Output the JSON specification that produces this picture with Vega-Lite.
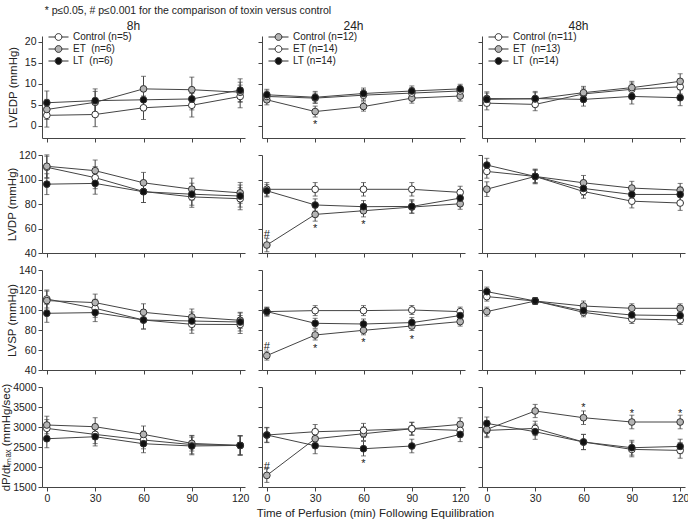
{
"$schema":"https://vega.github.io/schema/vega-lite/v6.json",
"background":"white",
"padding":{"left":0,"top":5,"right":2,"bottom":2},
"title":{"text":"* p≤0.05, # p≤0.001 for the comparison of toxin versus control","anchor":"start","frame":"bounds","fontSize":10.5,"fontWeight":"normal","color":"#222","offset":4,"dx":44},
"datasets":{
"d":[
{"m":"LVEDP","t":"8h","s":"Control","x":0,"v":2.5,"e":2.8},{"m":"LVEDP","t":"8h","s":"Control","x":30,"v":2.7,"e":2.9},{"m":"LVEDP","t":"8h","s":"Control","x":60,"v":4.3,"e":2.8},{"m":"LVEDP","t":"8h","s":"Control","x":90,"v":4.9,"e":2.8},{"m":"LVEDP","t":"8h","s":"Control","x":120,"v":7.0,"e":2.7},
{"m":"LVEDP","t":"8h","s":"ET","x":0,"v":3.9,"e":2.4},{"m":"LVEDP","t":"8h","s":"ET","x":30,"v":5.6,"e":2.6},{"m":"LVEDP","t":"8h","s":"ET","x":60,"v":8.8,"e":3.0},{"m":"LVEDP","t":"8h","s":"ET","x":90,"v":8.6,"e":3.0},{"m":"LVEDP","t":"8h","s":"ET","x":120,"v":8.0,"e":2.4},
{"m":"LVEDP","t":"8h","s":"LT","x":0,"v":5.5,"e":2.8},{"m":"LVEDP","t":"8h","s":"LT","x":30,"v":6.0,"e":2.8},{"m":"LVEDP","t":"8h","s":"LT","x":60,"v":6.2,"e":2.6},{"m":"LVEDP","t":"8h","s":"LT","x":90,"v":6.4,"e":2.6},{"m":"LVEDP","t":"8h","s":"LT","x":120,"v":8.5,"e":2.7},
{"m":"LVEDP","t":"24h","s":"Control","x":0,"v":6.2,"e":1.2},{"m":"LVEDP","t":"24h","s":"Control","x":30,"v":3.4,"e":1.3},{"m":"LVEDP","t":"24h","s":"Control","x":60,"v":4.6,"e":1.1},{"m":"LVEDP","t":"24h","s":"Control","x":90,"v":6.6,"e":1.2},{"m":"LVEDP","t":"24h","s":"Control","x":120,"v":7.1,"e":1.2},
{"m":"LVEDP","t":"24h","s":"ET","x":0,"v":7.0,"e":1.3},{"m":"LVEDP","t":"24h","s":"ET","x":30,"v":6.6,"e":1.2},{"m":"LVEDP","t":"24h","s":"ET","x":60,"v":7.3,"e":1.3},{"m":"LVEDP","t":"24h","s":"ET","x":90,"v":7.8,"e":1.3},{"m":"LVEDP","t":"24h","s":"ET","x":120,"v":8.3,"e":1.2},
{"m":"LVEDP","t":"24h","s":"LT","x":0,"v":7.4,"e":1.3},{"m":"LVEDP","t":"24h","s":"LT","x":30,"v":6.8,"e":1.4},{"m":"LVEDP","t":"24h","s":"LT","x":60,"v":7.7,"e":1.3},{"m":"LVEDP","t":"24h","s":"LT","x":90,"v":8.3,"e":1.2},{"m":"LVEDP","t":"24h","s":"LT","x":120,"v":8.8,"e":1.1},
{"m":"LVEDP","t":"48h","s":"Control","x":0,"v":5.4,"e":1.6},{"m":"LVEDP","t":"48h","s":"Control","x":30,"v":5.1,"e":1.5},{"m":"LVEDP","t":"48h","s":"Control","x":60,"v":7.6,"e":1.4},{"m":"LVEDP","t":"48h","s":"Control","x":90,"v":8.7,"e":1.5},{"m":"LVEDP","t":"48h","s":"Control","x":120,"v":9.3,"e":1.7},
{"m":"LVEDP","t":"48h","s":"ET","x":0,"v":6.5,"e":1.6},{"m":"LVEDP","t":"48h","s":"ET","x":30,"v":6.4,"e":1.5},{"m":"LVEDP","t":"48h","s":"ET","x":60,"v":7.9,"e":1.5},{"m":"LVEDP","t":"48h","s":"ET","x":90,"v":9.1,"e":1.5},{"m":"LVEDP","t":"48h","s":"ET","x":120,"v":10.6,"e":1.8},
{"m":"LVEDP","t":"48h","s":"LT","x":0,"v":6.3,"e":1.5},{"m":"LVEDP","t":"48h","s":"LT","x":30,"v":6.5,"e":1.7},{"m":"LVEDP","t":"48h","s":"LT","x":60,"v":6.3,"e":1.6},{"m":"LVEDP","t":"48h","s":"LT","x":90,"v":7.0,"e":1.8},{"m":"LVEDP","t":"48h","s":"LT","x":120,"v":6.7,"e":1.9},
{"m":"LVDP","t":"8h","s":"Control","x":0,"v":110,"e":9},{"m":"LVDP","t":"8h","s":"Control","x":30,"v":101.5,"e":9},{"m":"LVDP","t":"8h","s":"Control","x":60,"v":90.2,"e":9},{"m":"LVDP","t":"8h","s":"Control","x":90,"v":85.8,"e":8.5},{"m":"LVDP","t":"8h","s":"Control","x":120,"v":84.3,"e":9},
{"m":"LVDP","t":"8h","s":"ET","x":0,"v":110.8,"e":9.3},{"m":"LVDP","t":"8h","s":"ET","x":30,"v":107.2,"e":8.7},{"m":"LVDP","t":"8h","s":"ET","x":60,"v":97.3,"e":8.5},{"m":"LVDP","t":"8h","s":"ET","x":90,"v":92.1,"e":9},{"m":"LVDP","t":"8h","s":"ET","x":120,"v":89.1,"e":8.5},
{"m":"LVDP","t":"8h","s":"LT","x":0,"v":96.2,"e":8.5},{"m":"LVDP","t":"8h","s":"LT","x":30,"v":96.8,"e":8.8},{"m":"LVDP","t":"8h","s":"LT","x":60,"v":90,"e":8.8},{"m":"LVDP","t":"8h","s":"LT","x":90,"v":88,"e":9},{"m":"LVDP","t":"8h","s":"LT","x":120,"v":86.5,"e":9},
{"m":"LVDP","t":"24h","s":"Control","x":0,"v":46.5,"e":5.5},{"m":"LVDP","t":"24h","s":"Control","x":30,"v":71.5,"e":5.5},{"m":"LVDP","t":"24h","s":"Control","x":60,"v":74.5,"e":5},{"m":"LVDP","t":"24h","s":"Control","x":90,"v":77.5,"e":5},{"m":"LVDP","t":"24h","s":"Control","x":120,"v":80.2,"e":4.5},
{"m":"LVDP","t":"24h","s":"ET","x":0,"v":92,"e":5.5},{"m":"LVDP","t":"24h","s":"ET","x":30,"v":92,"e":5.5},{"m":"LVDP","t":"24h","s":"ET","x":60,"v":92,"e":5.5},{"m":"LVDP","t":"24h","s":"ET","x":90,"v":92,"e":5.5},{"m":"LVDP","t":"24h","s":"ET","x":120,"v":89.5,"e":5},
{"m":"LVDP","t":"24h","s":"LT","x":0,"v":90.8,"e":5},{"m":"LVDP","t":"24h","s":"LT","x":30,"v":79.2,"e":5},{"m":"LVDP","t":"24h","s":"LT","x":60,"v":77.8,"e":5},{"m":"LVDP","t":"24h","s":"LT","x":90,"v":78,"e":5.5},{"m":"LVDP","t":"24h","s":"LT","x":120,"v":84.8,"e":5},
{"m":"LVDP","t":"48h","s":"Control","x":0,"v":106.6,"e":5.5},{"m":"LVDP","t":"48h","s":"Control","x":30,"v":102.5,"e":5},{"m":"LVDP","t":"48h","s":"Control","x":60,"v":90.2,"e":5.5},{"m":"LVDP","t":"48h","s":"Control","x":90,"v":82.3,"e":5.5},{"m":"LVDP","t":"48h","s":"Control","x":120,"v":80.8,"e":6},
{"m":"LVDP","t":"48h","s":"ET","x":0,"v":92.1,"e":6},{"m":"LVDP","t":"48h","s":"ET","x":30,"v":102.5,"e":5.5},{"m":"LVDP","t":"48h","s":"ET","x":60,"v":97.3,"e":6},{"m":"LVDP","t":"48h","s":"ET","x":90,"v":93,"e":5.5},{"m":"LVDP","t":"48h","s":"ET","x":120,"v":91.3,"e":5.5},
{"m":"LVDP","t":"48h","s":"LT","x":0,"v":111.8,"e":5.5},{"m":"LVDP","t":"48h","s":"LT","x":30,"v":102.5,"e":6},{"m":"LVDP","t":"48h","s":"LT","x":60,"v":92.7,"e":5.5},{"m":"LVDP","t":"48h","s":"LT","x":90,"v":87.8,"e":6},{"m":"LVDP","t":"48h","s":"LT","x":120,"v":87.8,"e":6},
{"m":"LVSP","t":"8h","s":"Control","x":0,"v":111,"e":9},{"m":"LVSP","t":"8h","s":"Control","x":30,"v":101.7,"e":9},{"m":"LVSP","t":"8h","s":"Control","x":60,"v":90,"e":9},{"m":"LVSP","t":"8h","s":"Control","x":90,"v":85.7,"e":9},{"m":"LVSP","t":"8h","s":"Control","x":120,"v":85.5,"e":9},
{"m":"LVSP","t":"8h","s":"ET","x":0,"v":109.4,"e":9.5},{"m":"LVSP","t":"8h","s":"ET","x":30,"v":107.4,"e":8.5},{"m":"LVSP","t":"8h","s":"ET","x":60,"v":97.7,"e":8.5},{"m":"LVSP","t":"8h","s":"ET","x":90,"v":93,"e":8},{"m":"LVSP","t":"8h","s":"ET","x":120,"v":89.7,"e":8},
{"m":"LVSP","t":"8h","s":"LT","x":0,"v":96.7,"e":9},{"m":"LVSP","t":"8h","s":"LT","x":30,"v":97.4,"e":9},{"m":"LVSP","t":"8h","s":"LT","x":60,"v":90,"e":9},{"m":"LVSP","t":"8h","s":"LT","x":90,"v":89,"e":9},{"m":"LVSP","t":"8h","s":"LT","x":120,"v":88,"e":9},
{"m":"LVSP","t":"24h","s":"Control","x":0,"v":54.4,"e":4.5},{"m":"LVSP","t":"24h","s":"Control","x":30,"v":75,"e":5},{"m":"LVSP","t":"24h","s":"Control","x":60,"v":79.7,"e":4.5},{"m":"LVSP","t":"24h","s":"Control","x":90,"v":84,"e":4.5},{"m":"LVSP","t":"24h","s":"Control","x":120,"v":88.4,"e":4.5},
{"m":"LVSP","t":"24h","s":"ET","x":0,"v":98.4,"e":4},{"m":"LVSP","t":"24h","s":"ET","x":30,"v":99.4,"e":5},{"m":"LVSP","t":"24h","s":"ET","x":60,"v":99.4,"e":5},{"m":"LVSP","t":"24h","s":"ET","x":90,"v":100,"e":4.5},{"m":"LVSP","t":"24h","s":"ET","x":120,"v":98.4,"e":4.5},
{"m":"LVSP","t":"24h","s":"LT","x":0,"v":98.4,"e":4.5},{"m":"LVSP","t":"24h","s":"LT","x":30,"v":86.7,"e":5},{"m":"LVSP","t":"24h","s":"LT","x":60,"v":86,"e":5},{"m":"LVSP","t":"24h","s":"LT","x":90,"v":87.4,"e":5},{"m":"LVSP","t":"24h","s":"LT","x":120,"v":94.4,"e":4.5},
{"m":"LVSP","t":"48h","s":"Control","x":0,"v":113.4,"e":4.5},{"m":"LVSP","t":"48h","s":"Control","x":30,"v":109,"e":3.5},{"m":"LVSP","t":"48h","s":"Control","x":60,"v":97.7,"e":4.5},{"m":"LVSP","t":"48h","s":"Control","x":90,"v":91,"e":4.5},{"m":"LVSP","t":"48h","s":"Control","x":120,"v":90,"e":4.5},
{"m":"LVSP","t":"48h","s":"ET","x":0,"v":98.4,"e":4.5},{"m":"LVSP","t":"48h","s":"ET","x":30,"v":109,"e":3.5},{"m":"LVSP","t":"48h","s":"ET","x":60,"v":104,"e":5},{"m":"LVSP","t":"48h","s":"ET","x":90,"v":101.7,"e":4.5},{"m":"LVSP","t":"48h","s":"ET","x":120,"v":101.7,"e":4.5},
{"m":"LVSP","t":"48h","s":"LT","x":0,"v":118.4,"e":4.5},{"m":"LVSP","t":"48h","s":"LT","x":30,"v":109,"e":3.5},{"m":"LVSP","t":"48h","s":"LT","x":60,"v":99.4,"e":4.5},{"m":"LVSP","t":"48h","s":"LT","x":90,"v":95,"e":4.5},{"m":"LVSP","t":"48h","s":"LT","x":120,"v":94.4,"e":4.5},
{"m":"DPDT","t":"8h","s":"Control","x":0,"v":2965,"e":220},{"m":"DPDT","t":"8h","s":"Control","x":30,"v":2815,"e":230},{"m":"DPDT","t":"8h","s":"Control","x":60,"v":2675,"e":220},{"m":"DPDT","t":"8h","s":"Control","x":90,"v":2560,"e":230},{"m":"DPDT","t":"8h","s":"Control","x":120,"v":2540,"e":240},
{"m":"DPDT","t":"8h","s":"ET","x":0,"v":3050,"e":220},{"m":"DPDT","t":"8h","s":"ET","x":30,"v":3007,"e":225},{"m":"DPDT","t":"8h","s":"ET","x":60,"v":2815,"e":210},{"m":"DPDT","t":"8h","s":"ET","x":90,"v":2590,"e":190},{"m":"DPDT","t":"8h","s":"ET","x":120,"v":2540,"e":235},
{"m":"DPDT","t":"8h","s":"LT","x":0,"v":2707,"e":225},{"m":"DPDT","t":"8h","s":"LT","x":30,"v":2757,"e":230},{"m":"DPDT","t":"8h","s":"LT","x":60,"v":2582,"e":225},{"m":"DPDT","t":"8h","s":"LT","x":90,"v":2525,"e":220},{"m":"DPDT","t":"8h","s":"LT","x":120,"v":2540,"e":245},
{"m":"DPDT","t":"24h","s":"Control","x":0,"v":1790,"e":175},{"m":"DPDT","t":"24h","s":"Control","x":30,"v":2707,"e":170},{"m":"DPDT","t":"24h","s":"Control","x":60,"v":2832,"e":170},{"m":"DPDT","t":"24h","s":"Control","x":90,"v":2957,"e":160},{"m":"DPDT","t":"24h","s":"Control","x":120,"v":3065,"e":165},
{"m":"DPDT","t":"24h","s":"ET","x":0,"v":2800,"e":180},{"m":"DPDT","t":"24h","s":"ET","x":30,"v":2882,"e":180},{"m":"DPDT","t":"24h","s":"ET","x":60,"v":2915,"e":175},{"m":"DPDT","t":"24h","s":"ET","x":90,"v":2957,"e":160},{"m":"DPDT","t":"24h","s":"ET","x":120,"v":2915,"e":170},
{"m":"DPDT","t":"24h","s":"LT","x":0,"v":2800,"e":190},{"m":"DPDT","t":"24h","s":"LT","x":30,"v":2532,"e":200},{"m":"DPDT","t":"24h","s":"LT","x":60,"v":2457,"e":180},{"m":"DPDT","t":"24h","s":"LT","x":90,"v":2525,"e":170},{"m":"DPDT","t":"24h","s":"LT","x":120,"v":2815,"e":180},
{"m":"DPDT","t":"48h","s":"Control","x":0,"v":2915,"e":180},{"m":"DPDT","t":"48h","s":"Control","x":30,"v":2965,"e":180},{"m":"DPDT","t":"48h","s":"Control","x":60,"v":2625,"e":190},{"m":"DPDT","t":"48h","s":"Control","x":90,"v":2440,"e":185},{"m":"DPDT","t":"48h","s":"Control","x":120,"v":2415,"e":195},
{"m":"DPDT","t":"48h","s":"ET","x":0,"v":2940,"e":175},{"m":"DPDT","t":"48h","s":"ET","x":30,"v":3400,"e":165},{"m":"DPDT","t":"48h","s":"ET","x":60,"v":3232,"e":170},{"m":"DPDT","t":"48h","s":"ET","x":90,"v":3125,"e":170},{"m":"DPDT","t":"48h","s":"ET","x":120,"v":3125,"e":170},
{"m":"DPDT","t":"48h","s":"LT","x":0,"v":3090,"e":160},{"m":"DPDT","t":"48h","s":"LT","x":30,"v":2882,"e":190},{"m":"DPDT","t":"48h","s":"LT","x":60,"v":2625,"e":190},{"m":"DPDT","t":"48h","s":"LT","x":90,"v":2482,"e":185},{"m":"DPDT","t":"48h","s":"LT","x":120,"v":2515,"e":180}
],
"ann":[
{"m":"LVEDP","t":"24h","x":30,"v":0.9,"txt":"*"},
{"m":"LVDP","t":"24h","x":0,"v":57.5,"txt":"#"},{"m":"LVDP","t":"24h","x":30,"v":62,"txt":"*"},{"m":"LVDP","t":"24h","x":60,"v":65.3,"txt":"*"},
{"m":"LVSP","t":"24h","x":0,"v":66.4,"txt":"#"},{"m":"LVSP","t":"24h","x":30,"v":64,"txt":"*"},{"m":"LVSP","t":"24h","x":60,"v":70,"txt":"*"},{"m":"LVSP","t":"24h","x":90,"v":73,"txt":"*"},
{"m":"DPDT","t":"24h","x":0,"v":2083,"txt":"#"},{"m":"DPDT","t":"24h","x":60,"v":2150,"txt":"*"},
{"m":"DPDT","t":"48h","x":60,"v":3540,"txt":"*"},{"m":"DPDT","t":"48h","x":90,"v":3400,"txt":"*"},{"m":"DPDT","t":"48h","x":120,"v":3400,"txt":"*"}
]
},
"columns":3,
"spacing":{"row":17,"column":17},
"bounds":"flush",
"resolve":{"scale":{"fill":"independent","x":"independent","y":"independent"},"legend":{"fill":"independent"}},
"concat":[
{"width":203,"height":102,"title":{"text":"8h","fontSize":12,"offset":-2,"dx":-10},"data":{"name":"d"},"transform":[{"filter":"datum.m=='LVEDP'&&datum.t=='8h'"}],
"encoding":{"x":{"field":"x","type":"quantitative","scale":{"domain":[-3,123],"nice":false},"axis":{"values":[0,30,60,90,120],"labels":false,"title":null}},
"y":{"field":"v","type":"quantitative","scale":{"domain":[-2.9,21.4],"nice":false,"zero":false},"axis":{"values":[0,5,10,15,20],"title":"LVEDP (mmHg)","titlePadding":6}}},
"layer":[
{"mark":{"type":"errorbar","ticks":true,"size":5,"thickness":1,"color":"#444"},"encoding":{"yError":{"field":"e"}}},
{"mark":{"type":"line","color":"#444","strokeWidth":1},"encoding":{"detail":{"field":"s"}}},
{"mark":{"type":"circle","size":45,"opacity":1,"stroke":"#333","strokeWidth":1},"encoding":{"fill":{"field":"s","type":"nominal","scale":{"domain":["Control","ET","LT"],"range":["#ffffff","#b4b4b4","#111111"]},"legend":{"title":null,"orient":"none","legendX":6,"legendY":-5,"padding":0,"clipHeight":12,"rowPadding":0,"symbolType":"M-1,0H-0.34M0.34,0H1M-0.34,0A0.34,0.34 0 1,0 0.34,0A0.34,0.34 0 1,0 -0.34,0Z","symbolSize":400,"symbolStrokeColor":"#333","symbolStrokeWidth":1,"labelFontSize":10,"labelColor":"#222","labelOffset":4,"labelExpr":"datum.value=='Control'?'Control (n=5)':datum.value=='ET'?'ET \u00a0(n=6)':'LT \u00a0(n=6)'"}}}}
]},
{"width":203,"height":102,"title":{"text":"24h","fontSize":12,"offset":-2,"dx":-10},"data":{"name":"d"},"transform":[{"filter":"datum.m=='LVEDP'&&datum.t=='24h'"}],
"encoding":{"x":{"field":"x","type":"quantitative","scale":{"domain":[-3,123],"nice":false},"axis":{"values":[0,30,60,90,120],"labels":false,"title":null}},
"y":{"field":"v","type":"quantitative","scale":{"domain":[-2.9,21.4],"nice":false,"zero":false},"axis":{"values":[0,5,10,15,20],"labels":false,"title":null}}},
"layer":[
{"mark":{"type":"errorbar","ticks":true,"size":5,"thickness":1,"color":"#444"},"encoding":{"yError":{"field":"e"}}},
{"mark":{"type":"line","color":"#444","strokeWidth":1},"encoding":{"detail":{"field":"s"}}},
{"mark":{"type":"circle","size":45,"opacity":1,"stroke":"#333","strokeWidth":1},"encoding":{"fill":{"field":"s","type":"nominal","scale":{"domain":["Control","ET","LT"],"range":["#b4b4b4","#ffffff","#111111"]},"legend":{"title":null,"orient":"none","legendX":6,"legendY":-5,"padding":0,"clipHeight":12,"rowPadding":0,"symbolType":"M-1,0H-0.34M0.34,0H1M-0.34,0A0.34,0.34 0 1,0 0.34,0A0.34,0.34 0 1,0 -0.34,0Z","symbolSize":400,"symbolStrokeColor":"#333","symbolStrokeWidth":1,"labelFontSize":10,"labelColor":"#222","labelOffset":4,"labelExpr":"datum.value=='Control'?'Control (n=12)':datum.value=='ET'?'ET (n=14)':'LT (n=14)'"}}}},
{"data":{"name":"ann"},"transform":[{"filter":"datum.m=='LVEDP'&&datum.t=='24h'"}],"mark":{"type":"text","fontSize":11,"fill":"#222","dy":3},"encoding":{"text":{"field":"txt"}}}
]},
{"width":203,"height":102,"title":{"text":"48h","fontSize":12,"offset":-2,"dx":-5},"data":{"name":"d"},"transform":[{"filter":"datum.m=='LVEDP'&&datum.t=='48h'"}],
"encoding":{"x":{"field":"x","type":"quantitative","scale":{"domain":[-3,123],"nice":false},"axis":{"values":[0,30,60,90,120],"labels":false,"title":null}},
"y":{"field":"v","type":"quantitative","scale":{"domain":[-2.9,21.4],"nice":false,"zero":false},"axis":{"values":[0,5,10,15,20],"labels":false,"title":null}}},
"layer":[
{"mark":{"type":"errorbar","ticks":true,"size":5,"thickness":1,"color":"#444"},"encoding":{"yError":{"field":"e"}}},
{"mark":{"type":"line","color":"#444","strokeWidth":1},"encoding":{"detail":{"field":"s"}}},
{"mark":{"type":"circle","size":45,"opacity":1,"stroke":"#333","strokeWidth":1},"encoding":{"fill":{"field":"s","type":"nominal","scale":{"domain":["Control","ET","LT"],"range":["#ffffff","#b4b4b4","#111111"]},"legend":{"title":null,"orient":"none","legendX":6,"legendY":-5,"padding":0,"clipHeight":12,"rowPadding":0,"symbolType":"M-1,0H-0.34M0.34,0H1M-0.34,0A0.34,0.34 0 1,0 0.34,0A0.34,0.34 0 1,0 -0.34,0Z","symbolSize":400,"symbolStrokeColor":"#333","symbolStrokeWidth":1,"labelFontSize":10,"labelColor":"#222","labelOffset":4,"labelExpr":"datum.value=='Control'?'Control (n=11)':datum.value=='ET'?'ET \u00a0(n=13)':'LT \u00a0(n=14)'"}}}}
]},
{"width":203,"height":98,"data":{"name":"d"},"transform":[{"filter":"datum.m=='LVDP'&&datum.t=='8h'"}],
"encoding":{"x":{"field":"x","type":"quantitative","scale":{"domain":[-3,123],"nice":false},"axis":{"values":[0,30,60,90,120],"labels":false,"title":null}},
"y":{"field":"v","type":"quantitative","scale":{"domain":[40,120],"nice":false,"zero":false},"axis":{"values":[40,60,80,100,120],"title":"LVDP (mmHg)","titlePadding":1}}},
"layer":[
{"mark":{"type":"errorbar","ticks":true,"size":5,"thickness":1,"color":"#444"},"encoding":{"yError":{"field":"e"}}},
{"mark":{"type":"line","color":"#444","strokeWidth":1},"encoding":{"detail":{"field":"s"}}},
{"mark":{"type":"circle","size":45,"opacity":1,"stroke":"#333","strokeWidth":1},"encoding":{"fill":{"field":"s","type":"nominal","scale":{"domain":["Control","ET","LT"],"range":["#ffffff","#b4b4b4","#111111"]},"legend":null}}}
]},
{"width":203,"height":98,"data":{"name":"d"},"transform":[{"filter":"datum.m=='LVDP'&&datum.t=='24h'"}],
"encoding":{"x":{"field":"x","type":"quantitative","scale":{"domain":[-3,123],"nice":false},"axis":{"values":[0,30,60,90,120],"labels":false,"title":null}},
"y":{"field":"v","type":"quantitative","scale":{"domain":[40,120],"nice":false,"zero":false},"axis":{"values":[40,60,80,100,120],"labels":false,"title":null}}},
"layer":[
{"mark":{"type":"errorbar","ticks":true,"size":5,"thickness":1,"color":"#444"},"encoding":{"yError":{"field":"e"}}},
{"mark":{"type":"line","color":"#444","strokeWidth":1},"encoding":{"detail":{"field":"s"}}},
{"mark":{"type":"circle","size":45,"opacity":1,"stroke":"#333","strokeWidth":1},"encoding":{"fill":{"field":"s","type":"nominal","scale":{"domain":["Control","ET","LT"],"range":["#b4b4b4","#ffffff","#111111"]},"legend":null}}},
{"data":{"name":"ann"},"transform":[{"filter":"datum.m=='LVDP'&&datum.t=='24h'"}],"mark":{"type":"text","fontSize":11,"fill":"#222","dy":3},"encoding":{"text":{"field":"txt"}}}
]},
{"width":203,"height":98,"data":{"name":"d"},"transform":[{"filter":"datum.m=='LVDP'&&datum.t=='48h'"}],
"encoding":{"x":{"field":"x","type":"quantitative","scale":{"domain":[-3,123],"nice":false},"axis":{"values":[0,30,60,90,120],"labels":false,"title":null}},
"y":{"field":"v","type":"quantitative","scale":{"domain":[40,120],"nice":false,"zero":false},"axis":{"values":[40,60,80,100,120],"labels":false,"title":null}}},
"layer":[
{"mark":{"type":"errorbar","ticks":true,"size":5,"thickness":1,"color":"#444"},"encoding":{"yError":{"field":"e"}}},
{"mark":{"type":"line","color":"#444","strokeWidth":1},"encoding":{"detail":{"field":"s"}}},
{"mark":{"type":"circle","size":45,"opacity":1,"stroke":"#333","strokeWidth":1},"encoding":{"fill":{"field":"s","type":"nominal","scale":{"domain":["Control","ET","LT"],"range":["#ffffff","#b4b4b4","#111111"]},"legend":null}}}
]},
{"width":203,"height":100,"data":{"name":"d"},"transform":[{"filter":"datum.m=='LVSP'&&datum.t=='8h'"}],
"encoding":{"x":{"field":"x","type":"quantitative","scale":{"domain":[-3,123],"nice":false},"axis":{"values":[0,30,60,90,120],"labels":false,"title":null}},
"y":{"field":"v","type":"quantitative","scale":{"domain":[40,140],"nice":false,"zero":false},"axis":{"values":[40,60,80,100,120,140],"title":"LVSP (mmHg)","titlePadding":1}}},
"layer":[
{"mark":{"type":"errorbar","ticks":true,"size":5,"thickness":1,"color":"#444"},"encoding":{"yError":{"field":"e"}}},
{"mark":{"type":"line","color":"#444","strokeWidth":1},"encoding":{"detail":{"field":"s"}}},
{"mark":{"type":"circle","size":45,"opacity":1,"stroke":"#333","strokeWidth":1},"encoding":{"fill":{"field":"s","type":"nominal","scale":{"domain":["Control","ET","LT"],"range":["#ffffff","#b4b4b4","#111111"]},"legend":null}}}
]},
{"width":203,"height":100,"data":{"name":"d"},"transform":[{"filter":"datum.m=='LVSP'&&datum.t=='24h'"}],
"encoding":{"x":{"field":"x","type":"quantitative","scale":{"domain":[-3,123],"nice":false},"axis":{"values":[0,30,60,90,120],"labels":false,"title":null}},
"y":{"field":"v","type":"quantitative","scale":{"domain":[40,140],"nice":false,"zero":false},"axis":{"values":[40,60,80,100,120,140],"labels":false,"title":null}}},
"layer":[
{"mark":{"type":"errorbar","ticks":true,"size":5,"thickness":1,"color":"#444"},"encoding":{"yError":{"field":"e"}}},
{"mark":{"type":"line","color":"#444","strokeWidth":1},"encoding":{"detail":{"field":"s"}}},
{"mark":{"type":"circle","size":45,"opacity":1,"stroke":"#333","strokeWidth":1},"encoding":{"fill":{"field":"s","type":"nominal","scale":{"domain":["Control","ET","LT"],"range":["#b4b4b4","#ffffff","#111111"]},"legend":null}}},
{"data":{"name":"ann"},"transform":[{"filter":"datum.m=='LVSP'&&datum.t=='24h'"}],"mark":{"type":"text","fontSize":11,"fill":"#222","dy":3},"encoding":{"text":{"field":"txt"}}}
]},
{"width":203,"height":100,"data":{"name":"d"},"transform":[{"filter":"datum.m=='LVSP'&&datum.t=='48h'"}],
"encoding":{"x":{"field":"x","type":"quantitative","scale":{"domain":[-3,123],"nice":false},"axis":{"values":[0,30,60,90,120],"labels":false,"title":null}},
"y":{"field":"v","type":"quantitative","scale":{"domain":[40,140],"nice":false,"zero":false},"axis":{"values":[40,60,80,100,120,140],"labels":false,"title":null}}},
"layer":[
{"mark":{"type":"errorbar","ticks":true,"size":5,"thickness":1,"color":"#444"},"encoding":{"yError":{"field":"e"}}},
{"mark":{"type":"line","color":"#444","strokeWidth":1},"encoding":{"detail":{"field":"s"}}},
{"mark":{"type":"circle","size":45,"opacity":1,"stroke":"#333","strokeWidth":1},"encoding":{"fill":{"field":"s","type":"nominal","scale":{"domain":["Control","ET","LT"],"range":["#ffffff","#b4b4b4","#111111"]},"legend":null}}}
]},
{"width":203,"height":100,"data":{"name":"d"},"transform":[{"filter":"datum.m=='DPDT'&&datum.t=='8h'"}],
"encoding":{"x":{"field":"x","type":"quantitative","scale":{"domain":[-3,123],"nice":false},"axis":{"values":[0,30,60,90,120],"title":null}},
"y":{"field":"v","type":"quantitative","scale":{"domain":[1500,4000],"nice":false,"zero":false},"axis":{"values":[1500,2000,2500,3000,3500,4000],"format":"d","title":"dP/dtₘₐₓ (mmHg/sec)","titlePadding":1}}},
"layer":[
{"mark":{"type":"errorbar","ticks":true,"size":5,"thickness":1,"color":"#444"},"encoding":{"yError":{"field":"e"}}},
{"mark":{"type":"line","color":"#444","strokeWidth":1},"encoding":{"detail":{"field":"s"}}},
{"mark":{"type":"circle","size":45,"opacity":1,"stroke":"#333","strokeWidth":1},"encoding":{"fill":{"field":"s","type":"nominal","scale":{"domain":["Control","ET","LT"],"range":["#ffffff","#b4b4b4","#111111"]},"legend":null}}}
]},
{"width":203,"height":100,"data":{"name":"d"},"transform":[{"filter":"datum.m=='DPDT'&&datum.t=='24h'"}],
"encoding":{"x":{"field":"x","type":"quantitative","scale":{"domain":[-3,123],"nice":false},"axis":{"values":[0,30,60,90,120],"title":"Time of Perfusion (min) Following Equilibration","titlePadding":4,"titleX":113}},
"y":{"field":"v","type":"quantitative","scale":{"domain":[1500,4000],"nice":false,"zero":false},"axis":{"values":[1500,2000,2500,3000,3500,4000],"labels":false,"title":null}}},
"layer":[
{"mark":{"type":"errorbar","ticks":true,"size":5,"thickness":1,"color":"#444"},"encoding":{"yError":{"field":"e"}}},
{"mark":{"type":"line","color":"#444","strokeWidth":1},"encoding":{"detail":{"field":"s"}}},
{"mark":{"type":"circle","size":45,"opacity":1,"stroke":"#333","strokeWidth":1},"encoding":{"fill":{"field":"s","type":"nominal","scale":{"domain":["Control","ET","LT"],"range":["#b4b4b4","#ffffff","#111111"]},"legend":null}}},
{"data":{"name":"ann"},"transform":[{"filter":"datum.m=='DPDT'&&datum.t=='24h'"}],"mark":{"type":"text","fontSize":11,"fill":"#222","dy":3},"encoding":{"text":{"field":"txt"}}}
]},
{"width":203,"height":100,"data":{"name":"d"},"transform":[{"filter":"datum.m=='DPDT'&&datum.t=='48h'"}],
"encoding":{"x":{"field":"x","type":"quantitative","scale":{"domain":[-3,123],"nice":false},"axis":{"values":[0,30,60,90,120],"title":null}},
"y":{"field":"v","type":"quantitative","scale":{"domain":[1500,4000],"nice":false,"zero":false},"axis":{"values":[1500,2000,2500,3000,3500,4000],"labels":false,"title":null}}},
"layer":[
{"mark":{"type":"errorbar","ticks":true,"size":5,"thickness":1,"color":"#444"},"encoding":{"yError":{"field":"e"}}},
{"mark":{"type":"line","color":"#444","strokeWidth":1},"encoding":{"detail":{"field":"s"}}},
{"mark":{"type":"circle","size":45,"opacity":1,"stroke":"#333","strokeWidth":1},"encoding":{"fill":{"field":"s","type":"nominal","scale":{"domain":["Control","ET","LT"],"range":["#ffffff","#b4b4b4","#111111"]},"legend":null}}},
{"data":{"name":"ann"},"transform":[{"filter":"datum.m=='DPDT'&&datum.t=='48h'"}],"mark":{"type":"text","fontSize":11,"fill":"#222","dy":3},"encoding":{"text":{"field":"txt"}}}
]}
],
"config":{
"view":{"stroke":null},
"font":"Liberation Sans",
"axis":{"grid":false,"domainColor":"#444","tickColor":"#444","labelColor":"#222","labelFontSize":10.5,"labelFont":"Liberation Sans","titleFont":"Liberation Sans","titleFontSize":11.5,"titleFontWeight":"normal","titleColor":"#222","tickSize":4,"labelPadding":2},
"title":{"font":"Liberation Sans","fontWeight":"normal","color":"#222"},
"legend":{"labelFont":"Liberation Sans"}
}
}
